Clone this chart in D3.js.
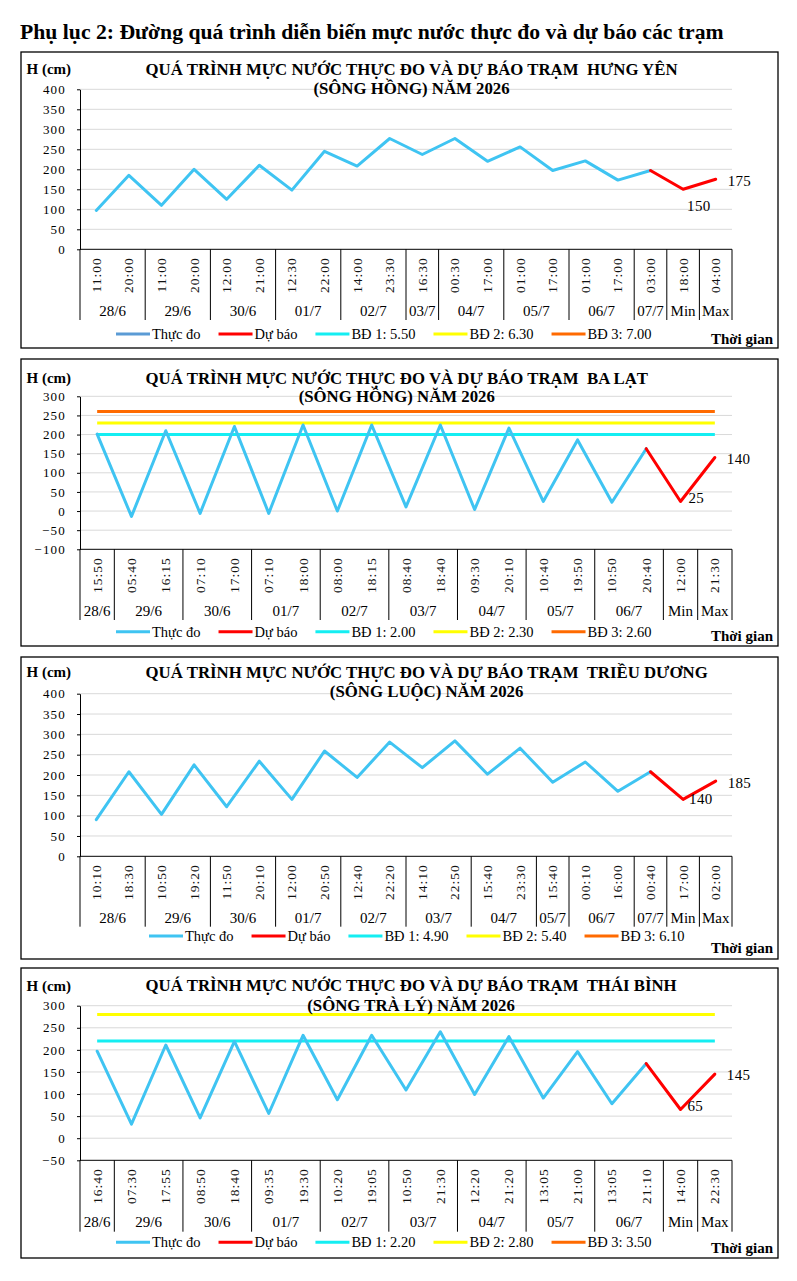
<!DOCTYPE html>
<html><head><meta charset="utf-8">
<script src="https://cdn.jsdelivr.net/npm/d3@7"></script>
<style>body{margin:0;background:#fff} svg{display:block}</style>
</head><body><svg id="c" width="797" height="1281"></svg>
<script>
// ---------- DATA ----------
const pageTitle = "Phụ lục 2: Đường quá trình diễn biến mực nước thực đo và dự báo các trạm";
const titlePrefix = "QUÁ TRÌNH MỰC NƯỚC THỰC ĐO VÀ DỰ BÁO TRẠM  ";

// Hưng Yên
const hyStation = "HƯNG YÊN", hyRiver = "(SÔNG HỒNG) NĂM 2026";
const hyTimes = ["11:00","20:00","11:00","20:00","12:00","21:00","12:30","22:00","14:00","23:30","16:30","00:30","17:00","01:00","17:00","01:00","17:00","03:00","18:00","04:00"];
const hyDates = ["28/6","28/6","29/6","29/6","30/6","30/6","01/7","01/7","02/7","02/7","03/7","04/7","04/7","05/7","05/7","06/7","06/7","07/7","Min","Max"];
const hyObserved = [97,185,110,200,125,210,148,245,208,277,237,277,220,256,197,221,173,197];
const hyForecast = [150,175];
const hyAlarms = [5.50,6.30,7.00];
const hyDomain = [0,400];

// Ba Lạt
const blStation = "BA LẠT", blRiver = "(SÔNG HỒNG) NĂM 2026";
const blTimes = ["15:50","05:40","16:15","07:10","17:00","07:10","18:00","08:00","18:15","08:40","18:40","09:30","20:10","10:40","19:50","10:50","20:40","12:00","21:30"];
const blDates = ["28/6","29/6","29/6","30/6","30/6","01/7","01/7","02/7","02/7","03/7","03/7","04/7","04/7","05/7","05/7","06/7","06/7","Min","Max"];
const blObserved = [201,-14,210,-6,221,-6,225,0,225,11,225,4,217,25,186,23,163];
const blForecast = [25,140];
const blAlarms = [2.00,2.30,2.60];
const blDomain = [-100,300];

// Triều Dương
const tdStation = "TRIỀU DƯƠNG", tdRiver = "(SÔNG LUỘC) NĂM 2026";
const tdTimes = ["10:10","18:30","10:50","19:20","11:50","20:10","12:00","20:50","12:40","22:20","14:10","22:50","15:40","23:30","15:40","00:10","16:00","00:40","17:00","02:00"];
const tdDates = ["28/6","28/6","29/6","29/6","30/6","30/6","01/7","01/7","02/7","02/7","03/7","03/7","04/7","04/7","05/7","06/7","06/7","07/7","Min","Max"];
const tdObserved = [90,208,103,225,122,234,140,259,194,281,218,284,202,266,182,232,160,208];
const tdForecast = [140,185];
const tdAlarms = [4.90,5.40,6.10];
const tdDomain = [0,400];

// Thái Bình
const tbStation = "THÁI BÌNH", tbRiver = "(SÔNG TRÀ LÝ) NĂM 2026";
const tbTimes = ["16:40","07:30","17:55","08:50","18:40","09:35","19:30","10:20","19:05","10:50","21:30","12:20","21:20","13:05","21:00","13:05","21:10","14:00","22:30"];
const tbDates = ["28/6","29/6","29/6","30/6","30/6","01/7","01/7","02/7","02/7","03/7","03/7","04/7","04/7","05/7","05/7","06/7","06/7","Min","Max"];
const tbObserved = [197,32,211,46,219,56,233,87,233,109,241,99,230,91,196,78,169];
const tbForecast = [65,145];
const tbAlarms = [2.20,2.80,3.50];
const tbDomain = [-50,300];

const legendNames = ["Thực đo","Dự báo","BĐ 1: ","BĐ 2: ","BĐ 3: "];

// ---------- STYLE / LAYOUT ----------
const SERIF = "Liberation Serif, Times New Roman, serif";
const C_OBS = "#3fc4f2", C_FC = "#ff0000";
const C_AL = ["#14eef2","#ffff00","#ff6a00"];

const panels = [
 {station:hyStation, river:hyRiver, times:hyTimes, dates:hyDates, obs:hyObserved, fc:hyForecast, alarms:hyAlarms, domain:hyDomain,
  top:52, bottom:348, t1:69, t2:88, pTop:89.3, pBot:249.3, dateY:311, sepBot:320, legY:334, tgY:339, legX:116, obsLeg:"#5b9bd5", minOff:[4,17], maxOff:[12,2]},
 {station:blStation, river:blRiver, times:blTimes, dates:blDates, obs:blObserved, fc:blForecast, alarms:blAlarms, domain:blDomain,
  top:359, bottom:646, t1:378, t2:396.5, pTop:396.3, pBot:549.3, dateY:611, sepBot:620, legY:631.7, tgY:636, legX:116, obsLeg:C_OBS, minOff:[8,-3], maxOff:[12,1]},
 {station:tdStation, river:tdRiver, times:tdTimes, dates:tdDates, obs:tdObserved, fc:tdForecast, alarms:tdAlarms, domain:tdDomain,
  top:657, bottom:959, t1:672, t2:691, pTop:693.7, pBot:856.3, dateY:918.3, sepBot:926.7, legY:936, tgY:948, legX:149, obsLeg:C_OBS, minOff:[6,0], maxOff:[12,2]},
 {station:tbStation, river:tbRiver, times:tbTimes, dates:tbDates, obs:tbObserved, fc:tbForecast, alarms:tbAlarms, domain:tbDomain,
  top:968, bottom:1258, t1:985.7, t2:1005, pTop:1005.7, pBot:1160.3, dateY:1222.3, sepBot:1231.7, legY:1242.3, tgY:1247.7, legX:116, obsLeg:C_OBS, minOff:[7,-4], maxOff:[12,1]}
];

const svg = d3.select("#c").style("font-family",SERIF);
svg.append("text").attr("x",20).attr("y",39)
  .style("font-family",SERIF).attr("font-weight","bold").attr("font-size",21.7)
  .text(pageTitle);

const X0 = 80, X1 = 732;
const fmt = d3.format(".2f");

panels.forEach(p => {
  const g = svg.append("g");
  // frame
  g.append("rect").attr("x",21).attr("y",p.top).attr("width",757).attr("height",p.bottom-p.top)
    .attr("fill","#fff").attr("stroke","#000").attr("stroke-width",1.3);

  const n = p.times.length;
  const x = d3.scaleBand().domain(d3.range(n)).range([X0,X1]).padding(0);
  const cx = i => x(i) + x.bandwidth()/2;
  const y = d3.scaleLinear().domain(p.domain).range([p.pBot,p.pTop]);
  const ticks = d3.range(p.domain[0], p.domain[1]+1, 50);

  // gridlines
  g.append("g").selectAll("line").data(ticks.filter(t=>t!==p.domain[0])).join("line")
    .attr("x1",X0).attr("x2",X1).attr("y1",d=>y(d)).attr("y2",d=>y(d))
    .attr("stroke","#d9d9d9").attr("stroke-width",1);

  // alarm lines
  p.alarms.forEach((a,k) => {
    const v = a*100;
    if (v >= p.domain[0] && v <= p.domain[1]) {
      g.append("line").attr("x1",cx(0)).attr("x2",cx(n-1)).attr("y1",y(v)).attr("y2",y(v))
        .attr("stroke",C_AL[k]).attr("stroke-width",3);
    }
  });

  // y axis
  const ya = d3.axisLeft(y).tickValues(ticks).tickSize(3).tickSizeOuter(0).tickPadding(11);
  const yg = g.append("g").attr("transform",`translate(${X0},0)`).call(ya);
  yg.attr("font-family",null).attr("font-size",null);
  yg.select(".domain").attr("stroke","#000");
  yg.selectAll(".tick line").attr("stroke","#000");
  yg.selectAll(".tick text").style("font-family",SERIF).style("font-size","13px")
    .attr("letter-spacing","1.2px").attr("fill","#000");

  // x axis line
  g.append("line").attr("x1",X0).attr("x2",X1).attr("y1",p.pBot).attr("y2",p.pBot).attr("stroke","#000");

  // group boundaries
  const groups = [];
  p.dates.forEach((d,i) => {
    if (!groups.length || groups[groups.length-1].label !== d) groups.push({label:d, start:i, end:i});
    else groups[groups.length-1].end = i;
  });
  const bounds = [X0].concat(groups.map(gr => x(gr.end) + x.bandwidth()));
  g.append("g").selectAll("line").data(bounds).join("line")
    .attr("x1",d=>d).attr("x2",d=>d).attr("y1",p.pBot).attr("y2",p.sepBot)
    .attr("stroke","#000").attr("stroke-width",1);
  g.append("g").selectAll("text").data(groups).join("text")
    .attr("x",gr => (x(gr.start) + x(gr.end) + x.bandwidth())/2)
    .attr("y",p.dateY + 5)
    .attr("text-anchor","middle").style("font-family",SERIF).style("font-size","15px")
    .text(gr => gr.label);

  // time labels
  g.append("g").selectAll("text").data(p.times).join("text")
    .attr("transform",(d,i)=>`translate(${cx(i)+4.5},${p.pBot+8}) rotate(-90)`)
    .attr("text-anchor","end").style("font-family",SERIF).style("font-size","13.5px")
    .attr("letter-spacing","1px").attr("fill","#111")
    .text(d=>d);

  // observed line
  const line = d3.line().x(d=>cx(d[0])).y(d=>y(d[1]));
  const obsPts = p.obs.map((v,i)=>[i,v]);
  g.append("path").datum(obsPts).attr("d",line).attr("fill","none")
    .attr("stroke",C_OBS).attr("stroke-width",3).attr("stroke-linejoin","round").attr("stroke-linecap","round");
  const last = obsPts.length-1;
  const fcPts = [[last,p.obs[last]]].concat(p.fc.map((v,k)=>[last+1+k,v]));
  g.append("path").datum(fcPts).attr("d",line).attr("fill","none")
    .attr("stroke",C_FC).attr("stroke-width",3).attr("stroke-linejoin","round").attr("stroke-linecap","round");

  // data labels
  const offs = [p.minOff, p.maxOff];
  p.fc.forEach((v,k) => {
    const i = last+1+k;
    g.append("text").attr("x",cx(i)+offs[k][0]).attr("y",y(v)+offs[k][1]+5)
      .style("font-family",SERIF).style("font-size","15px").attr("letter-spacing","0.3px")
      .text(v);
  });

  // titles
  g.append("text").attr("x",26.5).attr("y",p.t1+5)
    .style("font-family",SERIF).attr("font-weight","bold").style("font-size","15px").text("H (cm)");
  const t1 = g.append("text").attr("x",145.5).attr("y",p.t1+5.5)
    .style("font-family",SERIF).attr("font-weight","bold").style("font-size","16.8px")
    .style("white-space","pre").text(titlePrefix + p.station);
  const w1 = t1.node().getComputedTextLength();
  g.append("text").attr("x",145.5 + w1/2).attr("y",p.t2+5.5).attr("text-anchor","middle")
    .style("font-family",SERIF).attr("font-weight","bold").style("font-size","16.8px")
    .text(p.river);

  // legend
  const legItems = [
    {name:legendNames[0], color:p.obsLeg},
    {name:legendNames[1], color:C_FC},
    {name:legendNames[2]+fmt(p.alarms[0]), color:C_AL[0]},
    {name:legendNames[3]+fmt(p.alarms[1]), color:C_AL[1]},
    {name:legendNames[4]+fmt(p.alarms[2]), color:C_AL[2]}
  ];
  let lx = p.legX;
  legItems.forEach(it => {
    g.append("line").attr("x1",lx).attr("x2",lx+34).attr("y1",p.legY).attr("y2",p.legY)
      .attr("stroke",it.color).attr("stroke-width",3);
    const t = g.append("text").attr("x",lx+36).attr("y",p.legY+4.8)
      .style("font-family",SERIF).style("font-size","14.5px").text(it.name);
    lx += 36 + t.node().getComputedTextLength() + 18;
  });
  g.append("text").attr("x",773).attr("y",p.tgY+5).attr("text-anchor","end")
    .style("font-family",SERIF).attr("font-weight","bold").style("font-size","15px").text("Thời gian");
});
</script></body></html>
